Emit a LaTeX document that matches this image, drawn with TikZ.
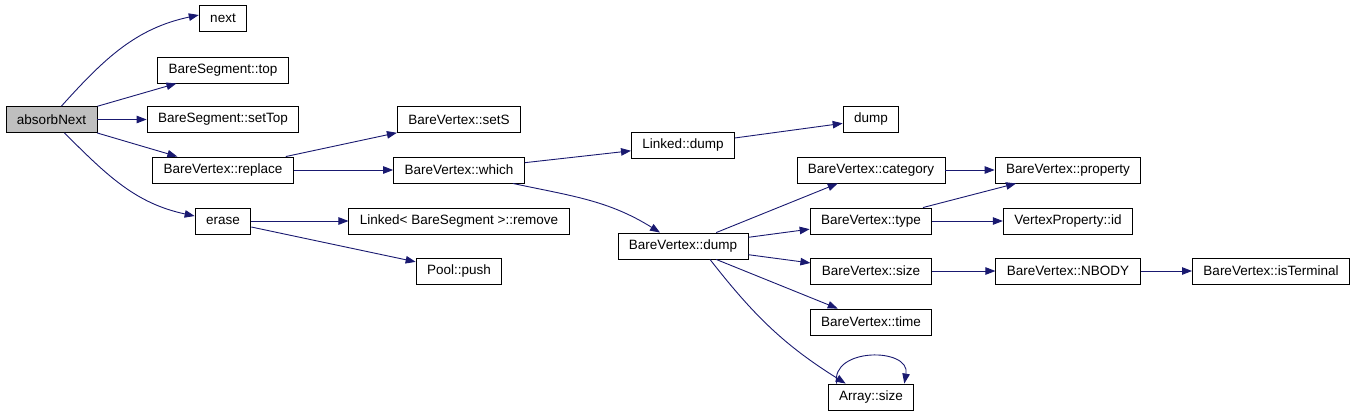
\documentclass[tikz,border=0pt]{standalone}
\usepackage{fontspec}
\setmainfont{Liberation Sans}
\usepackage{tikz}
\usetikzlibrary{arrows.meta}
\definecolor{edgeblue}{RGB}{25, 25, 112}
\definecolor{rootgray}{RGB}{191, 191, 191}

\begin{document}
\begin{tikzpicture}[x=1pt, y=1pt,
    fn/.style={draw=black, fill=white, line width=0.9pt, rectangle,
        minimum height=26pt, inner xsep=11pt, inner ysep=2pt,
        font=\fontsize{13.5}{15}\selectfont},
    root/.style={fn, fill=rootgray},
    call/.style={draw=edgeblue, line width=0.9pt,
        -{Triangle[length=10pt, width=7.5pt]}}]
    % Canvas
    \useasboundingbox (0,0) rectangle (1357,-416);

    % Column 1
    \node[root] (absorb) at (51.5,-119.5) {absorbNext};

    % Column 2
    \node[fn] (next) at (223,-18) {next};
    \node[fn] (segtop) at (223,-70) {BareSegment::top};
    \node[fn] (settop) at (223,-119.5) {BareSegment::setTop};
    \node[fn] (replace) at (223,-170) {BareVertex::replace};
    \node[fn] (erase) at (223,-221) {erase};

    % Column 3
    \node[fn] (sets) at (459,-119.5) {BareVertex::setS};
    \node[fn] (which) at (459,-170) {BareVertex::which};
    \node[fn] (remove) at (459,-221) {Linked< BareSegment >::remove};
    \node[fn] (push) at (459,-271) {Pool::push};

    % Column 4
    \node[fn] (ldump) at (683,-145) {Linked::dump};
    \node[fn] (vdump) at (683,-246) {BareVertex::dump};

    % Column 5
    \node[fn] (dump) at (871,-119.5) {dump};
    \node[fn] (category) at (871,-170) {BareVertex::category};
    \node[fn] (type) at (871,-221) {BareVertex::type};
    \node[fn] (vsize) at (871,-271) {BareVertex::size};
    \node[fn] (vtime) at (871,-322) {BareVertex::time};
    \node[fn] (asize) at (871,-397) {Array::size};

    % Column 6
    \node[fn] (property) at (1068,-170) {BareVertex::property};
    \node[fn] (vpid) at (1068,-221) {VertexProperty::id};
    \node[fn] (nbody) at (1068,-271) {BareVertex::NBODY};

    % Column 7
    \node[fn] (isterm) at (1271,-271) {BareVertex::isTerminal};

    % Calls from absorbNext
    \draw[call] ([xshift=10pt]absorb.north) to[out=48, in=192] ([yshift=3pt]next.west);
    \draw[call] (absorb) -- (segtop);
    \draw[call] (absorb) -- (settop);
    \draw[call] (absorb) -- (replace);
    \draw[call] ([xshift=13pt]absorb.south) to[out=-45, in=168] ([yshift=5pt]erase.west);

    % Calls from replace and erase
    \draw[call] (replace) -- (sets);
    \draw[call] (replace) -- (which);
    \draw[call] (erase) -- (remove);
    \draw[call] (erase) -- (push);

    % Calls from which
    \draw[call] (which) -- (ldump);
    \draw[call] ([xshift=-12pt]which.south east) to[out=-12, in=148] ([xshift=-23pt]vdump.north);
    \draw[call] (ldump) -- (dump);

    % Calls from BareVertex::dump
    \draw[call] (vdump) -- (category);
    \draw[call] (vdump) -- (type);
    \draw[call] (vdump) -- (vsize);
    \draw[call] (vdump) -- (vtime);
    \draw[call] ([xshift=27pt]vdump.south) to[out=-52, in=148] ([xshift=18pt]asize.north west);
    \draw[call] ([xshift=9pt]asize.north west) to[out=100, in=80, looseness=1.4] ([xshift=-10pt]asize.north east);

    % Remaining calls
    \draw[call] (category) -- (property);
    \draw[call] (type) -- (property);
    \draw[call] (type) -- (vpid);
    \draw[call] (vsize) -- (nbody);
    \draw[call] (nbody) -- (isterm);
\end{tikzpicture}
\end{document}
